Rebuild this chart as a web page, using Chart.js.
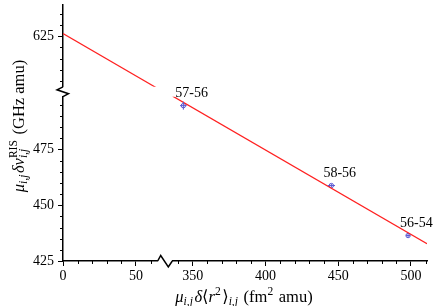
<!DOCTYPE html>
<html>
<head>
<meta charset="utf-8">
<script src="https://cdn.jsdelivr.net/npm/chart.js@4.4.1/dist/chart.umd.min.js"></script>
<style>
  html, body { margin: 0; padding: 0; background: #fff; }
  #wrap { width: 436px; height: 306px; position: relative; }
</style>
</head>
<body>
<div id="wrap"><canvas id="kingPlot"></canvas></div>
<script>
// measured pairs (modified isotope shifts)
const pairLabels = ["57-56", "58-56", "56-54"];
const modRadius = [343.6, 445.3, 498.0];     // mu d<r2>, fm^2 amu
const modRadiusErr = [2.3, 2.5, 1.4];
const modShift = [494.6, 458.8, 436.4];      // mu dnu, GHz amu
const modShiftErr = [1.8, 0.7, 0.9];

// linear fit through the points
const fitX = [0, 511];
const fitY = [626.2, 432.7];

// broken axis ranges
const xLeftRange = [0, 64.9];
const xRightRange = [336, 511];
const yTopRange = [602.4, 638.9];
const yBottomRange = [425, 498.6];
const xMajor = 50, xMinor = 10;
const yMajor = 25, yMinor = 5;

const serif = "'Liberation Serif', 'DejaVu Serif', serif";
const red = "#ff2020";
const blue = "#5a5ad2";

function fixX(s) { s.height = 45; s.paddingLeft = 0; s.paddingRight = 0; s.paddingTop = 0; s.paddingBottom = 0; }
function fixY(s) { s.width = 63; s.paddingLeft = 0; s.paddingRight = 0; s.paddingTop = 0; s.paddingBottom = 0; }

function axis(range, step, pos, stackWeight, weight) {
  return {
    type: "linear",
    position: pos,
    stack: pos === "bottom" ? "x" : "y",
    stackWeight: stackWeight,
    weight: weight,
    min: range[0],
    max: range[1],
    grid: { drawOnChartArea: false, drawTicks: true, tickLength: 5, color: "#000", lineWidth: 1 },
    border: { display: true, color: "#000", width: 1.5 },
    ticks: {
      stepSize: step, includeBounds: false, autoSkip: false, maxRotation: 0,
      color: "#000", padding: pos === "bottom" ? 2 : 4,
      font: { family: serif, size: 14 }
    },
    afterFit: pos === "bottom" ? fixX : fixY
  };
}

function spacer(pos, stackWeight) {
  return { type: "linear", display: false, position: pos, stack: pos === "bottom" ? "x" : "y", stackWeight: stackWeight, weight: 1 };
}

const fitPoints = fitX.map((x, i) => ({ x: x, y: fitY[i] }));
const measured = modRadius.map((x, i) => ({ x: x, y: modShift[i] }));

function font(it, size) { return (it ? "italic " : "") + size + "px " + serif; }

function runWidth(ctx, r, size) {
  if (r.t !== undefined) { ctx.font = font(r.it, size); return ctx.measureText(r.t).width; }
  let w = 0;
  if (r.sup) { ctx.font = font(r.supIt, size * 0.7); w = Math.max(w, ctx.measureText(r.sup).width); }
  if (r.sub) { ctx.font = font(r.subIt, size * 0.7); w = Math.max(w, ctx.measureText(r.sub).width); }
  return w + 1.5;
}

// draw a little bit of math text centred on (0,0) of the current transform
function drawMath(ctx, runs, size) {
  const widths = runs.map(r => runWidth(ctx, r, size));
  const total = widths.reduce((a, b) => a + b, 0);
  let x = -total / 2;
  const base = size * 0.35;
  ctx.textBaseline = "alphabetic";
  ctx.textAlign = "left";
  ctx.fillStyle = "#000";
  runs.forEach((r, i) => {
    if (r.t !== undefined) {
      ctx.font = font(r.it, size);
      ctx.fillText(r.t, x, base);
    } else {
      if (r.sup) { ctx.font = font(r.supIt, size * 0.7); ctx.fillText(r.sup, x, base - size * 0.42); }
      if (r.sub) { ctx.font = font(r.subIt, size * 0.7); ctx.fillText(r.sub, x, base + size * 0.22); }
    }
    x += widths[i];
  });
}

const yTitle = [
  { t: "\u03bc", it: true }, { sub: "i,j", subIt: true },
  { t: "\u03b4\u03bd", it: true }, { sup: "RIS", sub: "i,j", subIt: true },
  { t: " (GHz amu)" }
];
const xTitle = [
  { t: "\u03bc", it: true }, { sub: "i,j", subIt: true },
  { t: "\u03b4", it: true }, { t: "\u27e8" }, { t: "r", it: true }, { sup: "2" }, { t: "\u27e9" },
  { sub: "i,j", subIt: true }, { t: " (fm" }, { sup: "2" }, { t: " amu)" }
];

const extras = {
  id: "extras",
  afterDatasetsDraw(chart) {
    const ctx = chart.ctx;
    const xs = chart.scales.xR, ys = chart.scales.yB;
    ctx.save();
    ctx.strokeStyle = blue;
    ctx.lineWidth = 1;
    modRadius.forEach((v, i) => {
      const px = xs.getPixelForValue(v), py = ys.getPixelForValue(modShift[i]);
      const x0 = xs.getPixelForValue(v - modRadiusErr[i]), x1 = xs.getPixelForValue(v + modRadiusErr[i]);
      const y0 = ys.getPixelForValue(modShift[i] - modShiftErr[i]), y1 = ys.getPixelForValue(modShift[i] + modShiftErr[i]);
      ctx.beginPath();
      ctx.moveTo(x0, py); ctx.lineTo(x1, py);
      ctx.moveTo(px, y0); ctx.lineTo(px, y1);
      ctx.stroke();
      ctx.font = "14px " + serif;
      ctx.fillStyle = "#000";
      ctx.textAlign = "left";
      ctx.textBaseline = "alphabetic";
      ctx.fillText(pairLabels[i], px - 8, py - 9);
    });
    ctx.restore();
  },
  afterDraw(chart) {
    const ctx = chart.ctx;
    const area = chart.chartArea;
    const s = chart.scales;
    ctx.save();
    ctx.strokeStyle = "#000";
    ctx.lineWidth = 1;
    // minor ticks
    [[s.xL, xMinor, xMajor], [s.xR, xMinor, xMajor]].forEach(([sc, st, mj]) => {
      for (let v = Math.ceil(sc.min / st) * st; v <= sc.max + 1e-9; v += st) {
        if (Math.abs(v / mj - Math.round(v / mj)) < 1e-6) continue;
        const p = Math.round(sc.getPixelForValue(v)) + 0.5;
        ctx.beginPath(); ctx.moveTo(p, area.bottom); ctx.lineTo(p, area.bottom + 3); ctx.stroke();
      }
    });
    [[s.yT, yMinor, yMajor], [s.yB, yMinor, yMajor]].forEach(([sc, st, mj]) => {
      for (let v = Math.ceil(sc.min / st) * st; v <= sc.max + 1e-9; v += st) {
        if (Math.abs(v / mj - Math.round(v / mj)) < 1e-6) continue;
        const p = Math.round(sc.getPixelForValue(v)) + 0.5;
        ctx.beginPath(); ctx.moveTo(area.left - 3, p); ctx.lineTo(area.left, p); ctx.stroke();
      }
    });
    // axis break marks
    ctx.lineWidth = 1.5;
    const gx = s.xGap, gy = s.yGap;
    const yb = area.bottom;
    ctx.beginPath();
    ctx.moveTo(gx.left, yb);
    ctx.lineTo(gx.left + 3, yb - 5.5);
    ctx.lineTo(gx.right - 4, yb + 6);
    ctx.lineTo(gx.right, yb);
    ctx.stroke();
    const xl = area.left;
    ctx.beginPath();
    ctx.moveTo(xl, gy.top);
    ctx.lineTo(xl - 6, gy.top + 3);
    ctx.lineTo(xl + 5.5, gy.bottom - 3);
    ctx.lineTo(xl, gy.bottom);
    ctx.stroke();
    // axis titles
    ctx.save();
    ctx.translate((area.left + area.right) / 2 - 1, 296);
    drawMath(ctx, xTitle, 16.5);
    ctx.restore();
    ctx.save();
    ctx.translate(18, 126);
    ctx.rotate(-Math.PI / 2);
    drawMath(ctx, yTitle, 16.5);
    ctx.restore();
    ctx.restore();
  }
};

new Chart(document.getElementById("kingPlot"), {
  type: "scatter",
  data: {
    datasets: [
      { data: fitPoints, xAxisID: "xL", yAxisID: "yT", showLine: true, borderColor: red, borderWidth: 1.2, pointRadius: 0, fill: false },
      { data: fitPoints, xAxisID: "xR", yAxisID: "yB", showLine: true, borderColor: red, borderWidth: 1.2, pointRadius: 0, fill: false },
      { data: measured, xAxisID: "xR", yAxisID: "yB", pointStyle: "circle", pointRadius: 2.2, borderColor: blue, backgroundColor: "rgba(0,0,0,0)", borderWidth: 1 }
    ]
  },
  options: {
    responsive: true,
    maintainAspectRatio: false,
    animation: false,
    layout: { padding: { top: 0, left: 0, right: 9, bottom: 0 } },
    plugins: { legend: { display: false }, tooltip: { enabled: false } },
    scales: {
      xL: axis(xLeftRange, xMajor, "bottom", 94.7, 0),
      xGap: spacer("bottom", 14.6),
      xR: axis(xRightRange, xMajor, "bottom", 254.7, 2),
      yT: axis(yTopRange, yMajor, "left", 83.4, 2),
      yGap: spacer("left", 10.1),
      yB: axis(yBottomRange, yMajor, "left", 167.5, 0)
    }
  },
  plugins: [extras]
});
</script>
</body>
</html>
